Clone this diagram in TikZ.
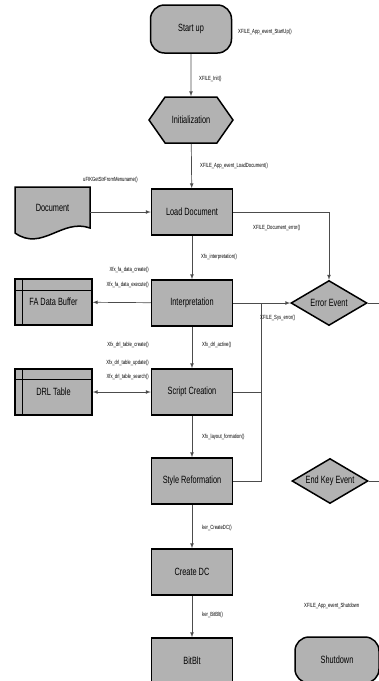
\documentclass[tikz,border=0pt]{standalone}
\usepackage{fontspec}
\setmainfont{Liberation Sans}[FakeStretch=0.7]
\usetikzlibrary{shapes.geometric,shapes.symbols}

\tikzset{
  box/.style={draw, line width=1.5pt, fill=black!30, minimum width=81pt, minimum height=46pt, inner sep=1pt, font=\fontsize{10.5}{11}\selectfont},
  store/.style={box, minimum width=77pt},
  decision/.style={box, diamond, aspect=1.7, minimum width=76pt, minimum height=45pt, inner sep=0pt},
  lbl/.style={inner sep=0pt, font=\fontsize{6}{6.5}\selectfont},
  wire/.style={black!70, line width=0.7pt},
}

\begin{document}
\begin{tikzpicture}[x=1pt, y=-1pt, >=latex]
    \useasboundingbox (0, 0) rectangle (379, 681);
    % Paths, nodes and wires:
    \node[box, rounded corners=14pt, minimum height=48pt](N1) at (191, 29){Start up};
    \node[box, signal, signal to=east and west, signal pointer angle=110, minimum width=84pt](N2) at (191, 120){Initialization};
    \node[box](N3) at (192, 212){Load Document};
    \draw[line width=1.5pt, fill=black!30] (15, 187) -- (90, 187) -- (90, 228) .. controls (62, 218) and (42, 252) .. (15, 233) -- cycle;
    \node[minimum width=75pt, minimum height=46pt, font=\fontsize{10.5}{11}\selectfont](N4) at (52.5, 208){Document};
    \node[box](N5) at (192, 303){Interpretation};
    \node[box](N6) at (192, 392){Script Creation};
    \node[box](N7) at (192, 481){Style Reformation};
    \node[box](N8) at (192, 572){Create DC};
    \node[box](N9) at (192, 661){BitBlt};
    \node[box, rounded corners=14pt, minimum width=84pt](N10) at (337, 660){Shutdown};
    \node[store](N11) at (53.5, 302){FA Data Buffer};
    \draw[line width=1.5pt] ([yshift=-12pt]N11.north west) -- ([yshift=-12pt]N11.north east);
    \draw[line width=1.5pt] ([xshift=8pt]N11.north west) -- ([xshift=8pt]N11.south west);
    \node[store](N12) at (53.5, 392){DRL Table};
    \draw[line width=1.5pt] ([yshift=-11pt]N12.north west) -- ([yshift=-11pt]N12.north east);
    \draw[line width=1.5pt] ([xshift=8pt]N12.north west) -- ([xshift=8pt]N12.south west);
    \node[decision](N13) at (329, 303){Error Event};
    \node[decision](N14) at (330, 481){End Key Event};
    \draw[wire, ->] (N1) -- (N2);
    \draw[wire, ->] (N2) -- (N3);
    \draw[wire, ->] (N4.east |- N3) -- (N3);
    \draw[wire, ->] (N3) -| (N13);
    \draw[wire, ->] (N3) -- (N5);
    \draw[wire, ->] (N5) -- (N11);
    \draw[wire, ->] (N5) -- (N13);
    \draw[wire, ->] (N5) -- (N6);
    \draw[wire, <->] (N6) -- (N12);
    \draw[wire, ->] (N6) -- (N7);
    \draw[wire, ->] (N7) -- (N8);
    \draw[wire, ->] (N8) -- (N9);
    \coordinate (J1) at (261, 303);
    \draw[wire] (J1) |- (N7.east);
    \draw[wire] (N6.east) -- (N6.east -| J1);
    \coordinate (E1) at (379, 303);
    \draw[wire] (N13.east) -- (E1);
    \coordinate (E2) at (379, 481);
    \draw[wire] (N14.east) -- (E2);
    % Labels:
    \node[lbl, anchor=west](L1) at (238, 32){XFILE\_App\_event\_StartUp()};
    \node[lbl, anchor=west](L2) at (199, 79){XFILE\_Init()};
    \node[lbl, anchor=west](L3) at (200, 166){XFILE\_App\_event\_LoadDocument()};
    \node[lbl, anchor=west](L4) at (83, 180){uFIKGetStrFromMenuname()};
    \node[lbl, anchor=west](L5) at (253, 228){XFILE\_Document\_error()};
    \node[lbl, anchor=west](L6) at (201, 257){Xfx\_interpretation()};
    \node[lbl, anchor=east](L7) at (149, 270){Xfx\_fa\_data\_create()};
    \node[lbl, anchor=east](L8) at (149, 285){Xfx\_fa\_data\_execute()};
    \node[lbl, anchor=west](L9) at (260, 318){XFILE\_Sys\_error()};
    \node[lbl, anchor=east](L10) at (149, 345){Xfx\_drl\_table\_create()};
    \node[lbl, anchor=east](L11) at (149, 363){Xfx\_drl\_table\_update()};
    \node[lbl, anchor=east](L12) at (149, 377){Xfx\_drl\_table\_search()};
    \node[lbl, anchor=west](L13) at (202, 345){Xfx\_drl\_active()};
    \node[lbl, anchor=west](L14) at (202, 437){Xfx\_layout\_formation()};
    \node[lbl, anchor=west](L15) at (202, 528){ker\_CreateDC()};
    \node[lbl, anchor=west](L16) at (202, 615){ker\_BitBlt()};
    \node[lbl, anchor=west](L17) at (304, 606){XFILE\_App\_event\_Shutdown};
\end{tikzpicture}
\end{document}
